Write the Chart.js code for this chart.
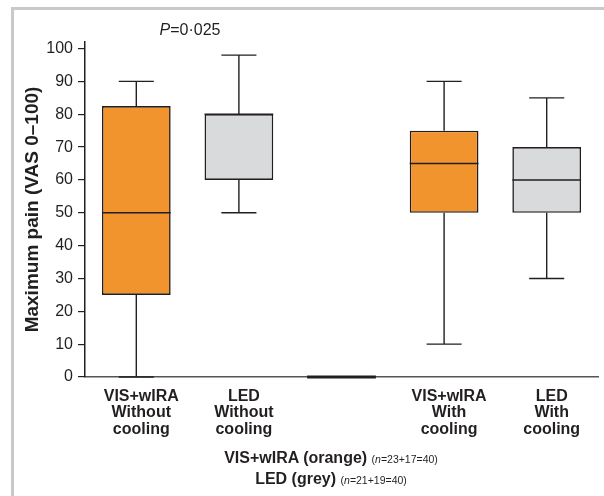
<!DOCTYPE html>
<html>
<head>
<meta charset="utf-8">
<script src="https://cdn.jsdelivr.net/npm/chart.js@4/dist/chart.umd.min.js"></script>
<style>
  body { margin: 0; background: #fff; font-family: "Liberation Sans", Arial, sans-serif; color: #231f20; }
  #wrap { position: relative; width: 604px; height: 496px; overflow: hidden; }
  #frame { position: absolute; left: 11px; top: 7px; width: 700px; height: 600px; border: 3px solid #c9c9c9; box-sizing: border-box; }
  #pval { position: absolute; left: 130px; width: 120px; top: 21px; text-align: center; font-size: 16px; line-height: 18px; }
  #legend { position: absolute; left: 131px; width: 400px; top: 448px; text-align: center; font-size: 16px; line-height: 19px; }
  #legend b { font-weight: bold; }
  #legend .n { font-size: 10.5px; }
  canvas { position: absolute; left: 0; top: 0; }
</style>
</head>
<body>
<div id="wrap">
  <div id="frame"></div>
  <canvas id="chart" width="604" height="496"></canvas>
  <div id="pval"><i>P</i>=0·025</div>
  <div id="legend">
    <div><b>VIS+wIRA (orange)</b> <span class="n">(<i>n</i>=23+17=40)</span></div>
    <div><b>LED (grey)</b> <span class="n">(<i>n</i>=21+19=40)</span></div>
  </div>
</div>
<script>
// group labels (empty slot in the middle)
const categories = [
  ["VIS+wIRA", "Without", "cooling"],
  ["LED", "Without", "cooling"],
  "",
  ["VIS+wIRA", "With", "cooling"],
  ["LED", "With", "cooling"],
]

// box plot statistics, VAS 0-100
const minValues = [0, 50, 0, 10, 30]
const q1Values = [25, 60, 0, 50, 50]
const medianValues = [50, 80, 0, 65, 60]
const q3Values = [82.5, 80, 0, 75, 70]
const maxValues = [90, 98, 0, 90, 85]

const yTickValues = [0, 10, 20, 30, 40, 50, 60, 70, 80, 90, 100]

const orange = "#f2942e"
const grey = "#d9dadc"
const ink = "#231f20"
const boxColors = [orange, grey, grey, orange, grey]

// draws whiskers, caps and median lines on top of the floating bars
const boxPlotLines = {
  id: "boxPlotLines",
  afterDatasetsDraw(chart) {
    const { ctx } = chart
    const y = chart.scales.y
    const meta = chart.getDatasetMeta(0)
    ctx.save()
    ctx.strokeStyle = ink
    meta.data.forEach((bar, i) => {
      const x = bar.x
      const half = bar.width / 2
      const capHalf = bar.width * 0.255
      const yMin = y.getPixelForValue(minValues[i])
      const yQ1 = y.getPixelForValue(q1Values[i])
      const yMed = y.getPixelForValue(medianValues[i])
      const yQ3 = y.getPixelForValue(q3Values[i])
      const yMax = y.getPixelForValue(maxValues[i])

      ctx.lineWidth = 1.4
      ctx.beginPath()
      // upper whisker
      ctx.moveTo(x, yQ3)
      ctx.lineTo(x, yMax)
      ctx.moveTo(x - capHalf, yMax)
      ctx.lineTo(x + capHalf, yMax)
      // lower whisker
      ctx.moveTo(x, yQ1)
      ctx.lineTo(x, yMin)
      ctx.moveTo(x - capHalf, yMin)
      ctx.lineTo(x + capHalf, yMin)
      ctx.stroke()

      // median
      ctx.lineWidth = q1Values[i] === q3Values[i] ? 3 : 1.4
      ctx.beginPath()
      ctx.moveTo(x - half, yMed)
      ctx.lineTo(x + half, yMed)
      ctx.stroke()
    })
    ctx.restore()
  },
}

new Chart(document.getElementById("chart"), {
  type: "bar",
  data: {
    labels: categories,
    datasets: [
      {
        data: q1Values.map((q1, i) => [q1, q3Values[i]]),
        backgroundColor: boxColors,
        borderColor: ink,
        borderWidth: 1.6,
        borderSkipped: false,
        categoryPercentage: 1,
        barPercentage: 0.67,
      },
    ],
  },
  options: {
    responsive: false,
    animation: false,
    layout: { padding: { top: 42, right: 6, bottom: 0, left: 0 } },
    plugins: {
      legend: { display: false },
      tooltip: { enabled: false },
    },
    scales: {
      x: {
        grid: { display: false },
        border: { display: true, color: "#555", width: 1.5 },
        ticks: {
          color: ink,
          font: { family: "'Liberation Sans', Arial", size: 16, weight: "bold", lineHeight: 1.03 },
          padding: 3,
          labelOffset: 5,
          autoSkip: false,
          maxRotation: 0,
        },
        afterFit: (scale) => {
          scale.height = 119
        },
      },
      y: {
        min: 0,
        max: 102,
        afterBuildTicks: (scale) => {
          scale.ticks = yTickValues.map((v) => ({ value: v }))
        },
        grid: {
          display: true,
          drawOnChartArea: false,
          drawTicks: true,
          tickLength: 7,
          color: ink,
          lineWidth: 1.2,
        },
        border: { display: true, color: ink, width: 1.5 },
        ticks: {
          color: ink,
          font: { family: "'Liberation Sans', Arial", size: 16 },
          padding: 5,
        },
        title: {
          display: true,
          text: "Maximum pain (VAS 0–100)",
          color: ink,
          font: { family: "'Liberation Sans', Arial", size: 19, weight: "bold" },
          padding: { top: 21, bottom: 0 },
        },
        afterFit: (scale) => {
          scale.width = 85
        },
      },
    },
  },
  plugins: [boxPlotLines],
})
</script>
</body>
</html>
